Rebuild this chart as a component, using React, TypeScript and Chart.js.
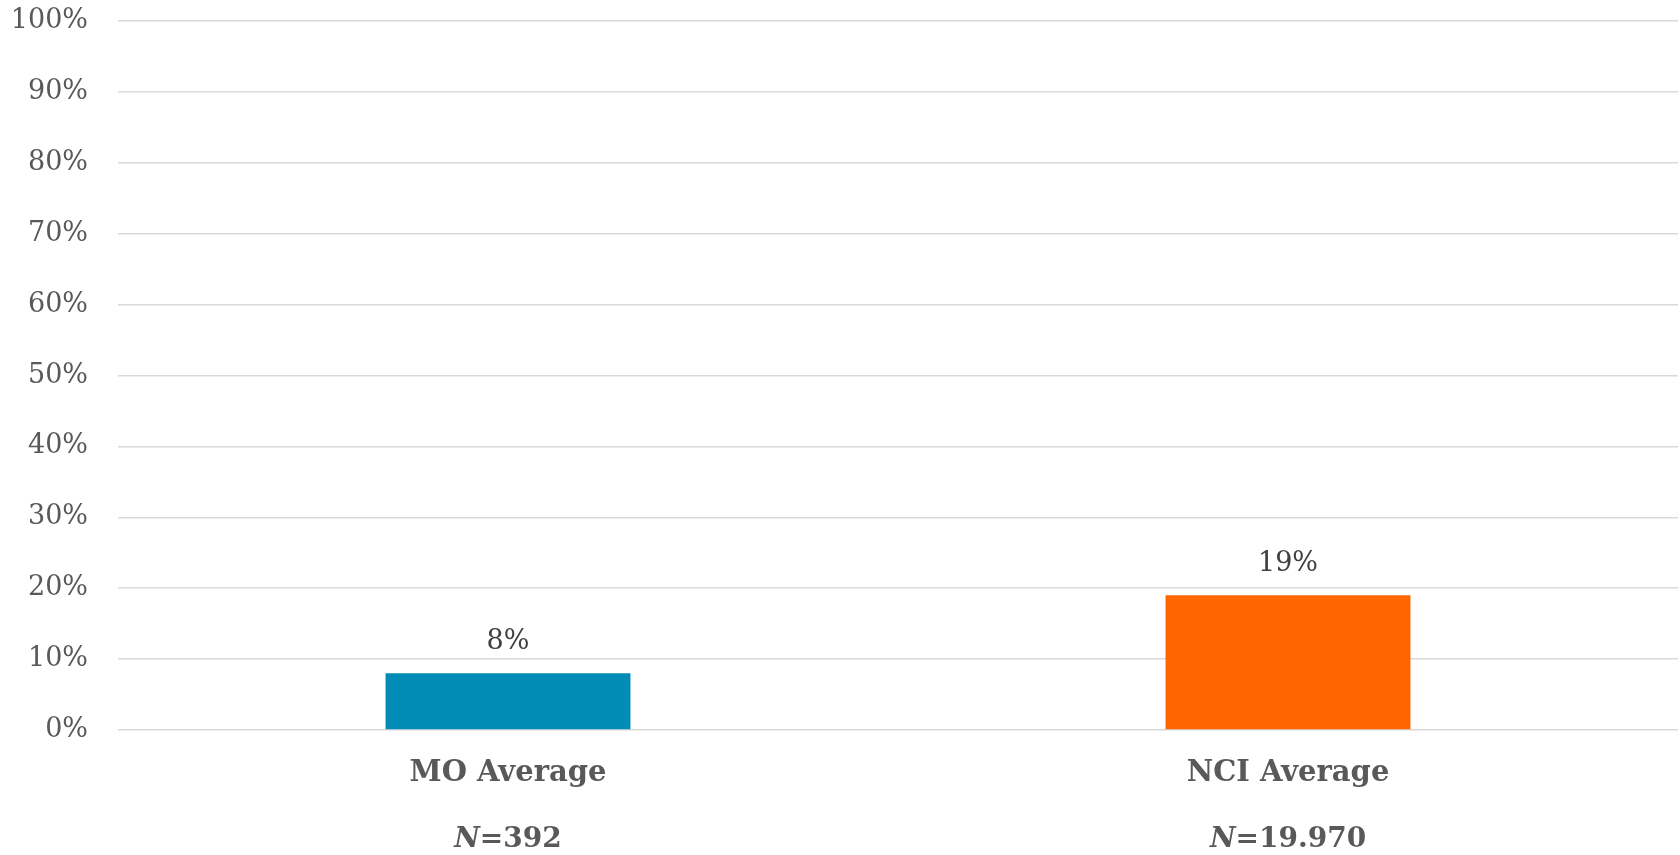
import React, { useEffect, useRef } from "react";
import { Chart, registerables } from "chart.js";

Chart.register(...registerables);

// Average share, in percent, with the sample size for each group
const categories = ["MO Average", "NCI Average"];
const values = [8, 19];
const sampleSizes = ["=392", "=19.970"];
const barColors = ["#008CB4", "#FF6600"];
const yTicks = [0, 10, 20, 30, 40, 50, 60, 70, 80, 90, 100];

const FONT = "Georgia, 'DejaVu Serif', serif";
const TEXT = "#595959";

// Writes the value above each bar and the italic-N sample line under each category
const annotations = {
  id: "annotations",
  afterDatasetsDraw(chart: any) {
    const { ctx, chartArea } = chart;
    const meta = chart.getDatasetMeta(0);
    const xScale = chart.scales.x;
    ctx.save();
    ctx.textAlign = "center";
    ctx.textBaseline = "middle";
    meta.data.forEach((bar: any, i: number) => {
      ctx.font = `normal 27px ${FONT}`;
      ctx.fillStyle = "#404040";
      ctx.fillText(`${values[i]}%`, bar.x, bar.y - 31);
    });
    categories.forEach((_, i) => {
      const cx = xScale.getPixelForValue(i);
      const y = chartArea.bottom + 110;
      const italic = `italic bold 28px ${FONT}`;
      const bold = `bold 28px ${FONT}`;
      ctx.font = italic;
      const wN = ctx.measureText("N").width;
      ctx.font = bold;
      const wRest = ctx.measureText(sampleSizes[i]).width;
      const start = cx - (wN + wRest) / 2;
      ctx.textAlign = "left";
      ctx.fillStyle = TEXT;
      ctx.font = italic;
      ctx.fillText("N", start, y);
      ctx.font = bold;
      ctx.fillText(sampleSizes[i], start + wN, y);
    });
    ctx.restore();
  },
};

export default function App() {
  const canvasRef = useRef<HTMLCanvasElement | null>(null);

  useEffect(() => {
    if (!canvasRef.current) return;
    const chart = new Chart(canvasRef.current, {
      type: "bar",
      data: {
        labels: categories,
        datasets: [
          {
            data: values,
            backgroundColor: barColors,
            borderWidth: 0,
            categoryPercentage: 1,
            barPercentage: 0.314,
          },
        ],
      },
      options: {
        animation: false,
        responsive: true,
        maintainAspectRatio: false,
        layout: { padding: { top: 0, right: 2, left: 0, bottom: 0 } },
        plugins: {
          legend: { display: false },
          tooltip: { enabled: false },
        },
        scales: {
          x: {
            grid: { display: false, drawTicks: false },
            border: { display: false },
            ticks: {
              color: TEXT,
              font: { family: FONT, size: 29, weight: "bold" },
              padding: 26,
              maxRotation: 0,
            },
            afterFit(scale: any) {
              scale.height = 125;
            },
          },
          y: {
            min: 0,
            max: 100,
            afterBuildTicks(scale: any) {
              scale.ticks = yTicks.map((v) => ({ value: v }));
            },
            grid: { color: "#d9d9d9", lineWidth: 1.5, drawTicks: false },
            border: { display: false },
            ticks: {
              color: TEXT,
              font: { family: FONT, size: 27 },
              padding: 30,
              callback: (v: any) => `${v}%`,
            },
            afterFit(scale: any) {
              scale.width = 118;
              scale.paddingTop = 21;
              scale.paddingBottom = 0;
            },
          },
        },
      },
      plugins: [annotations],
    });
    return () => chart.destroy();
  }, []);

  return (
    <div style={{ position: "fixed", left: 0, top: 0, width: 1680, height: 855, background: "#fff" }}>
      <canvas ref={canvasRef} />
    </div>
  );
}
